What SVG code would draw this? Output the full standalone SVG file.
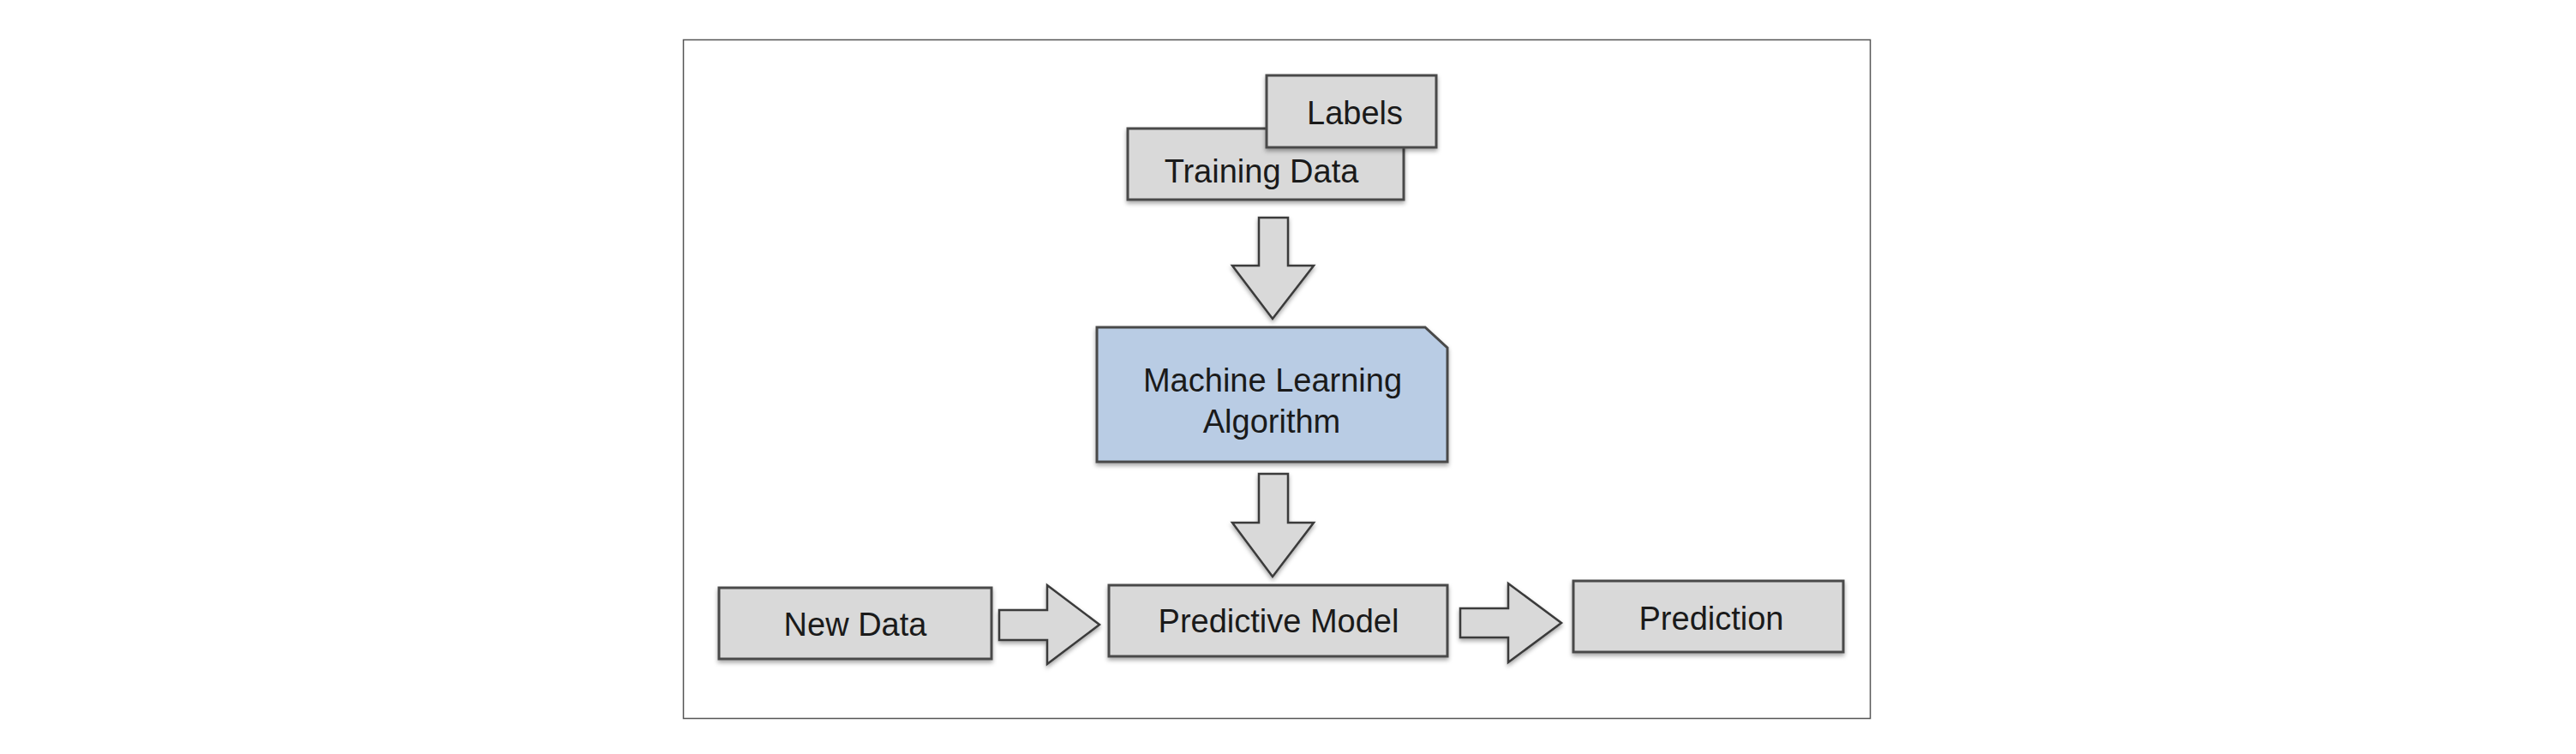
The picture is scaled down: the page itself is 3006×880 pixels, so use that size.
<svg xmlns="http://www.w3.org/2000/svg" width="3006" height="880" viewBox="0 0 3006 880">
<style>
.box{fill:#d9d9d9;stroke:#4a4a4a;stroke-width:3;filter:url(#sh)}
.ml{fill:#b9cce4;stroke:#4a4a4a;stroke-width:3;filter:url(#sh)}
.arr{fill:#d9d9d9;stroke:#3a3a3a;stroke-width:2.5;stroke-linejoin:miter;filter:url(#sh)}
.t{font-family:"Liberation Sans",Arial,sans-serif;font-size:38px;fill:#1a1a1a;text-anchor:middle}
</style>
<defs>
<filter id="sh" x="-10%" y="-10%" width="120%" height="130%">
<feDropShadow dx="0" dy="3" stdDeviation="2.5" flood-color="#000" flood-opacity="0.35"/>
</filter>
</defs>
<rect x="0" y="0" width="3006" height="880" fill="#ffffff"/>
<rect id="frame" x="797.5" y="46.5" width="1385" height="792" fill="none" stroke="#555" stroke-width="1.5"/>
<g id="training-data">
<rect class="box" x="1316" y="150" width="322" height="83"/>
<text class="t" x="1472" y="213">Training Data</text>
</g>
<g id="labels">
<rect class="box" x="1478" y="88" width="198" height="84"/>
<text class="t" x="1581" y="145">Labels</text>
</g>
<g id="ml-algorithm">
<path class="ml" d="M1280,382 L1663,382 L1689,406 L1689,539 L1280,539 Z"/>
<text class="t" x="1485" y="457">Machine Learning</text>
<text class="t" x="1484" y="505">Algorithm</text>
</g>
<g id="new-data">
<rect class="box" x="839" y="686" width="318" height="83"/>
<text class="t" x="998" y="742">New Data</text>
</g>
<g id="predictive-model">
<rect class="box" x="1294" y="683" width="395" height="83"/>
<text class="t" x="1492" y="738">Predictive Model</text>
</g>
<g id="prediction">
<rect class="box" x="1836" y="678" width="315" height="83"/>
<text class="t" x="1997" y="735">Prediction</text>
</g>
<g id="connectors">
<path class="arr" d="M1469,254 L1503,254 L1503,310 L1533,310 L1485,372 L1438,310 L1469,310 Z"/>
<path class="arr" d="M1469,553 L1503,553 L1503,610 L1533,610 L1485,673 L1438,610 L1469,610 Z"/>
<path class="arr" d="M1166,712 L1222,712 L1222,683 L1283,729 L1222,775 L1222,747 L1166,747 Z"/>
<path class="arr" d="M1704,710 L1760,710 L1760,681 L1822,727 L1760,773 L1760,744 L1704,744 Z"/>
</g>
</svg>
